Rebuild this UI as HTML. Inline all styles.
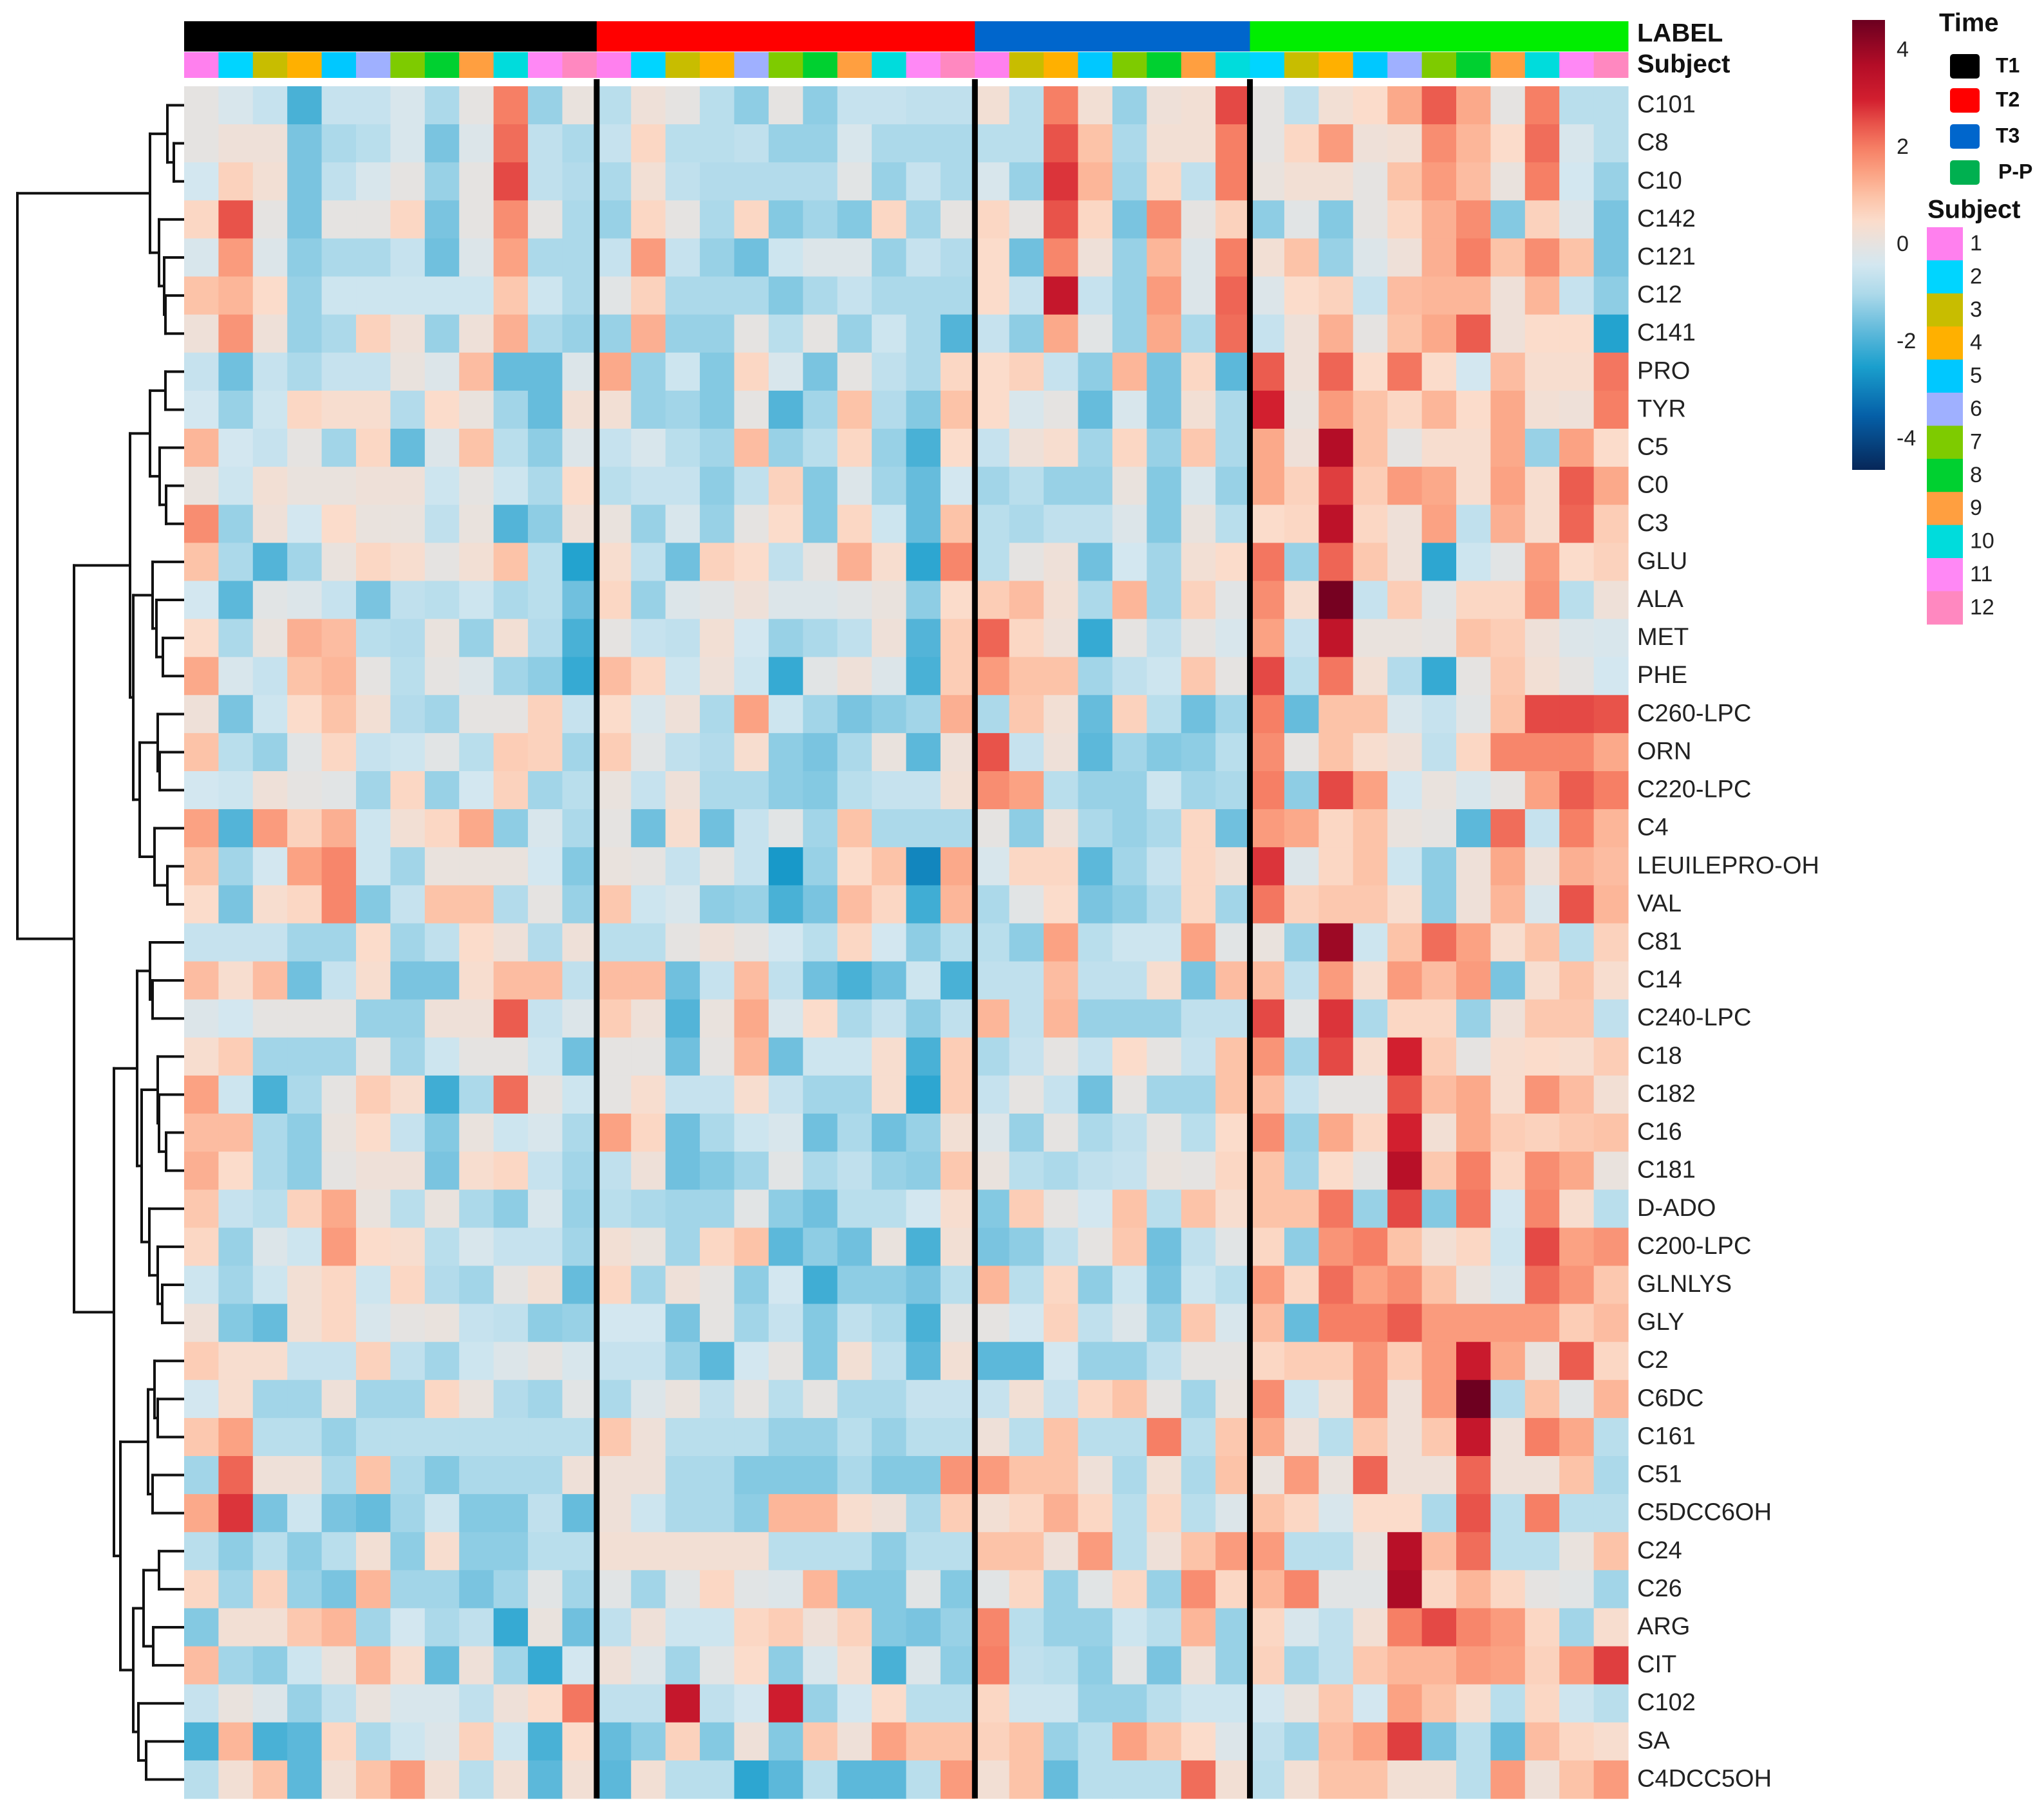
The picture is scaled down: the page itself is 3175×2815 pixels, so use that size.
<!DOCTYPE html>
<html>
<head>
<meta charset="utf-8">
<style>
  html,body{margin:0;padding:0;background:#fff;}
  svg{display:block;}
  text{font-family:"Liberation Sans",Arial,sans-serif;}
</style>
</head>
<body>
<svg id="chart" width="3175" height="2815" viewBox="0 0 3175 2815" xmlns="http://www.w3.org/2000/svg">
  <g id="dendro"></g>
  <g id="annot"></g>
  <g id="cells"></g>
  <g id="seps"></g>
  <g id="rowlabels"></g>
  <text x="2543" y="54" font-size="40" font-weight="bold" dominant-baseline="middle" fill="#111">LABEL</text>
  <text x="2543" y="102" font-size="40" font-weight="bold" dominant-baseline="middle" fill="#111">Subject</text>
  <g id="legend"></g>
</svg>
<script>
const rowLabels = ["C101","C8","C10","C142","C121","C12","C141","PRO","TYR","C5","C0","C3","GLU","ALA","MET","PHE","C260-LPC","ORN","C220-LPC","C4","LEUILEPRO-OH","VAL","C81","C14","C240-LPC","C18","C182","C16","C181","D-ADO","C200-LPC","GLNLYS","GLY","C2","C6DC","C161","C51","C5DCC6OH","C24","C26","ARG","CIT","C102","SA","C4DCC5OH"];
const timeGroups = ["T1","T2","T3","P-P"];
const groupSizes = [12,11,8,11];
const colSubjects = [1,2,3,4,5,6,7,8,9,10,11,12, 1,2,3,4,6,7,8,9,10,11,12, 1,3,4,5,7,8,9,10, 2,3,4,5,6,7,8,9,10,11,12];
const colorTicks = [4,2,0,-2,-4];
const values = [
[0,-0.3,-0.6,-2,-0.6,-0.6,-0.3,-1,0,2,-1.2,0.1,-0.8,0.2,0,-0.8,-1.3,0,-1.3,-0.6,-0.6,-0.7,-0.7,0.3,-0.8,2,0.3,-1.2,0.2,0.3,2.6,0,-0.7,0.3,0.5,1.4,2.4,1.4,0,2,-0.8,-0.8],
[0,0.2,0.2,-1.5,-1,-0.8,-0.3,-1.5,-0.2,2.2,-0.7,-1,-0.6,0.6,-0.8,-0.8,-0.7,-1.2,-1.2,-0.3,-1,-1,-1,-0.8,-0.8,2.5,1,-1,0.3,0.3,2,0,0.6,1.6,0.2,0.3,1.8,1.2,0.5,2.2,-0.3,-0.8],
[-0.4,0.7,0.3,-1.5,-0.7,-0.3,0,-1.2,0,2.6,-0.7,-0.9,-1,0.3,-0.7,-0.9,-0.9,-0.9,-0.9,-0.1,-1.2,-0.6,-1,-0.3,-1.2,2.8,1.2,-1.1,0.6,-0.7,2,0.1,0.3,0.3,0,1,1.6,1.1,0.1,2,-0.4,-1.2],
[0.6,2.5,0,-1.5,0,0,0.6,-1.5,0,1.8,0,-1,-1.2,0.6,0,-1,0.6,-1.4,-1.1,-1.4,0.6,-1.1,0,0.6,0,2.5,0.6,-1.5,1.8,0,0.7,-1.3,-0.1,-1.4,0,0.6,1.3,1.8,-1.4,0.7,-0.2,-1.5],
[-0.3,1.6,-0.2,-1.3,-1,-1,-0.6,-1.6,-0.2,1.5,-1,-1,-0.6,1.6,-0.6,-1.2,-1.6,-0.5,-0.2,-0.2,-1.2,-0.6,-0.9,0.5,-1.6,1.9,0.2,-1.2,1.2,-0.2,2,0.3,1,-1.2,-0.2,0.2,1.3,2,1,1.8,1,-1.5],
[1,1.2,0.5,-1.2,-0.5,-0.5,-0.5,-0.5,-0.5,0.9,-0.5,-1,-0.1,0.7,-1,-1,-1,-1.4,-1,-0.6,-1,-1,-1,0.5,-0.6,3.3,-0.6,-1.2,1.6,-0.2,2.3,-0.2,0.5,0.7,-0.6,1.1,1.2,1.2,0.2,1.2,-0.6,-1.3],
[0.2,1.7,0.2,-1.2,-1,0.7,0.2,-1.2,0.2,1.3,-1,-1.2,-1.2,1.3,-1.2,-1.2,0,-0.8,0,-1.2,-0.5,-1,-1.9,-0.6,-1.3,1.4,-0.1,-1.2,1.4,-1,2.2,-0.6,0.2,1.3,0,1,1.4,2.4,0.2,0.5,0.5,-2.4],
[-0.6,-1.6,-0.6,-1,-0.6,-0.6,0.1,-0.2,1.1,-1.7,-1.7,-0.2,1.4,-1.2,-0.5,-1.4,0.6,-0.3,-1.5,0,-0.7,-1,0.6,0.5,0.7,-0.6,-1.3,1.2,-1.5,0.6,-1.8,2.4,0.2,2.3,0.5,2.1,0.5,-0.4,1.1,0.4,0.4,2.1],
[-0.4,-1.2,-0.5,0.6,0.4,0.4,-0.9,0.5,0.1,-1.1,-1.7,0.3,0.3,-1.2,-1.1,-1.4,0,-1.9,-1.1,1,-0.9,-1.4,1,0.5,-0.3,0,-1.7,-0.3,-1.5,0.3,-1,3,0.1,1.6,1,0.6,1.2,0.5,1.4,0.3,0.2,2],
[1.2,-0.4,-0.6,0,-1.1,0.6,-1.7,-0.2,1,-0.8,-1.3,-0.2,-0.6,-0.3,-0.8,-1.1,1.1,-1.2,-0.8,0.6,-1.2,-2,0.5,-0.6,0.2,0.4,-1.1,0.6,-1.2,0.9,-1,1.4,0.2,3.7,1,0,0.4,0.4,1.4,-1.2,1.5,0.5],
[0.1,-0.5,0.3,0.1,0.1,0.2,0.2,-0.5,0,-0.5,-1,0.5,-0.8,-0.6,-0.6,-1.3,-0.7,0.7,-1.4,-0.2,-1.1,-1.7,-0.4,-1.1,-0.8,-1.2,-1.2,0.1,-1.4,-0.3,-1.2,1.4,0.7,2.7,0.8,1.6,1.4,0.4,1.5,0.4,2.4,1.4],
[1.8,-1.2,0.2,-0.4,0.5,0.1,0.1,-0.7,0.1,-1.9,-1.3,0.2,0.1,-1.2,-0.3,-1.2,0,0.5,-1.4,0.6,-0.5,-1.7,1,-0.8,-1,-0.7,-0.7,-0.2,-1.4,0.1,-0.8,0.5,0.6,3.5,0.6,0.2,1.5,-0.7,1.3,0.4,2.3,0.8],
[1,-1,-1.9,-1.1,0.1,0.6,0.4,0,0.3,1,-0.8,-2.4,0.4,-0.7,-1.6,0.7,0.5,-0.7,0,1.3,0.4,-2.3,1.9,-0.8,0,0.2,-1.6,-0.4,-1.1,0.3,0.5,2.1,-1.2,2.3,0.9,0.2,-2.3,-0.5,-0.1,1.6,0.5,0.7],
[-0.4,-1.8,-0.1,-0.2,-0.6,-1.5,-0.7,-0.8,-0.5,-1,-0.8,-1.6,0.6,-1.2,-0.2,-0.1,0.2,-0.2,-0.2,-0.1,0.1,-1.3,0.5,0.8,1.1,0.3,-1,1.2,-1.1,0.7,-0.1,1.8,0.4,4.5,-0.6,0.8,-0.1,0.6,0.6,1.7,-0.8,0.2],
[0.5,-1,0.1,1.3,1.1,-0.8,-0.9,0.1,-1.2,0.3,-0.9,-2,0,-0.6,-0.7,0.3,-0.4,-1.2,-1,-0.7,0.2,-1.9,0.8,2.3,0.6,0.2,-2.2,0,-0.7,0,-0.3,1.5,-0.6,3.4,0.1,0.1,0,1,0.8,0.2,-0.2,-0.3],
[1.4,-0.3,-0.6,1,1.2,0,-0.8,0,-0.2,-1.1,-1.3,-2.2,1.1,0.6,-0.5,0.2,-0.5,-2.2,-0.1,0.2,-0.2,-2,0.8,1.6,1,1,-1.1,-0.7,-0.5,0.9,0,2.6,-0.8,2.1,0.3,-0.9,-2.2,0,0.9,0.3,0,-0.4],
[0.2,-1.5,-0.5,0.5,1,0.3,-0.9,-1.1,0,0,0.7,-0.6,0.5,-0.3,0.2,-1,1.5,-0.5,-1.1,-1.5,-1.3,-1.1,1.3,-1,0.9,0.3,-1.7,0.7,-0.8,-1.6,-1.1,2,-1.7,1,1,-0.3,-0.6,-0.1,1,2.6,2.6,2.5],
[1,-0.8,-1.2,-0.1,0.6,-0.6,-0.5,-0.1,-0.8,0.8,0.7,-1.1,0.8,-0.1,-0.7,-0.9,0.4,-1.3,-1.5,-1,0.1,-1.8,0.2,2.5,-0.6,0.2,-1.8,-1.1,-1.4,-1.3,-0.8,1.8,0,1,0.4,0.2,-0.7,0.6,1.9,1.9,1.9,1.4],
[-0.4,-0.5,0.2,0,-0.1,-1.1,0.6,-1.2,-0.4,0.7,-1.1,-0.8,0.1,-0.6,0.2,-1,-1,-1.3,-1.4,-0.8,-0.6,-0.6,0.3,1.8,1.5,-0.8,-1.2,-1.2,-0.5,-1.1,-1,2,-1.3,2.6,1.5,-0.4,0.1,-0.3,0,1.5,2.4,2],
[1.5,-1.9,1.6,0.7,1.3,-0.5,0.3,0.6,1.4,-1.3,-0.3,-1,0,-1.6,0.4,-1.6,-0.6,-0.1,-1.1,1,-1,-1,-1,0,-1.3,0.2,-1,-1.2,-1,0.6,-1.6,1.6,1.4,0.6,1,0.1,0,-1.8,2.2,-0.6,2,1.2],
[1,-1.1,-0.4,1.5,1.9,-0.5,-1.1,0.1,0.1,0.1,-0.4,-1.4,0.1,0,-0.6,0,-0.6,-2.6,-1.2,0.5,1,-2.9,1.4,-0.3,0.6,0.6,-1.8,-1.1,-0.6,0.6,0.3,2.8,-0.2,0.6,1,-0.5,-1.3,0.2,1.4,0.2,1.3,1.1],
[0.5,-1.5,0.4,0.6,1.9,-1.4,-0.6,1,1,-0.9,0,-1.2,0.9,-0.5,-0.3,-1.3,-1.2,-2,-1.5,1.1,0.6,-2.1,1.2,-1,-0.1,0.5,-1.5,-1.3,-0.9,0.6,-1.1,2.1,0.7,0.9,0.9,0.4,-1.3,0.2,1.2,-0.3,2.5,1.2],
[-0.6,-0.6,-0.6,-1.1,-1.1,0.5,-1.1,-0.7,0.5,0.2,-0.9,0.2,-0.8,-0.8,0,0.2,0,-0.4,-0.8,0.6,-0.4,-1.3,-0.8,-0.8,-1.3,1.5,-0.8,-0.5,-0.5,1.5,-0.1,0.1,-1.2,4,-0.5,1,2.2,1.5,0.4,1,-0.8,0.7],
[1.1,0.4,1.1,-1.6,-0.6,0.4,-1.5,-1.5,0.4,1.1,1.1,-0.7,1.1,1.1,-1.6,-0.6,1.1,-0.7,-1.6,-2,-1.6,-0.5,-2,-0.7,-0.7,1.1,-0.7,-0.7,0.4,-1.5,1.1,1.1,-0.7,1.6,0.4,1.6,1.1,1.6,-1.5,0.4,1,0.4],
[-0.2,-0.4,0,0,0,-1.2,-1.2,0.2,0.2,2.4,-0.6,-0.2,0.8,0.2,-1.9,0.1,1.4,-0.3,0.5,-1,-0.6,-1.3,-0.7,1.2,-0.7,1.2,-1.2,-1.2,-1.2,-0.7,-0.7,2.6,-0.1,2.8,-1,0.6,0.6,-1.2,0.2,0.9,0.9,-0.7],
[0.4,0.8,-1.1,-1.1,-1.1,0,-1.1,-0.5,0,0,-0.5,-1.6,0,0,-1.6,0,1.2,-1.6,-0.5,-0.5,0.4,-2,0.8,-1,-0.6,0,-0.6,0.5,0,-0.6,1,1.7,-1.1,2.6,0.4,3,0.8,0,0.4,0.5,0.4,0.8],
[1.5,-0.5,-2,-1,0,0.8,0.4,-2.1,-1,2.2,0,-0.5,0,0.4,-0.6,-0.6,0.4,-0.6,-1.1,-1.1,0.4,-2.3,0.8,-0.6,0,-0.6,-1.6,0,-1.1,-1.1,1,1.1,-0.6,0,0,2.5,1.1,1.4,0.4,1.7,1.1,0.3],
[1.1,1.1,-1,-1.3,0.1,0.5,-0.6,-1.4,0.1,-0.5,-0.3,-1,1.5,0.6,-1.6,-1,-0.5,-0.3,-1.6,-1,-1.6,-1.2,0.3,-0.2,-1.2,0,-1,-0.7,0,-0.8,0.5,1.8,-1.2,1.4,0.6,3,0.3,1.4,0.8,0.7,0.9,1],
[1.3,0.5,-1,-1.3,0,0.2,0.2,-1.5,0.4,0.6,-0.6,-1.1,-0.7,0.2,-1.6,-1.4,-1.1,-0.1,-1,-0.7,-1.2,-1.3,0.9,0.1,-0.8,-1,-0.7,-0.6,0.1,0,0.6,1,-1.1,0.5,0,3.6,0.9,2,0.6,1.8,1.4,0.1],
[0.9,-0.6,-0.8,0.7,1.4,0.1,-0.8,0.1,-1,-1.3,-0.3,-1.2,-0.8,-1,-1.1,-1.1,-0.1,-1.3,-1.6,-0.8,-0.8,-0.4,0.4,-1.4,0.8,0,-0.4,1,-0.8,1,0.4,1,1,2.1,-1.2,2.6,-1.4,2.1,-0.4,1.9,0.4,-0.8],
[0.6,-1.2,-0.2,-0.5,1.6,0.5,0.4,-0.8,-0.3,-0.6,-0.6,-1.1,0.3,0.1,-1.1,0.6,1,-1.8,-1.3,-1.6,0.1,-2,0.3,-1.5,-1.3,-0.7,0,0.9,-1.6,-0.7,-0.1,0.6,-1.3,1.7,2,1,0.3,0.6,-0.5,2.6,1.5,1.7],
[-0.5,-1.1,-0.5,0.3,0.6,-0.5,0.6,-0.9,-1.1,0,0.3,-1.7,0.6,-1.1,0.2,0,-1.3,-0.4,-2.1,-1.3,-1.3,-1.5,-0.8,1.2,-0.8,0.6,-1.3,-0.5,-1.5,-0.5,-0.8,1.6,0.6,2.2,1.5,1.8,1,0.1,-0.3,2.2,1.7,0.9],
[0.2,-1.4,-1.7,0.3,0.6,-0.3,0,0.1,-0.6,-0.7,-1.3,-1.2,-0.4,-0.4,-1.5,0,-1.1,-0.6,-1.4,-0.7,-1,-2,0,0,-0.4,0.7,-0.7,-0.2,-1.2,0.9,-0.3,1.1,-1.7,2,2,2.4,1.6,1.6,1.6,1.6,0.8,1.1],
[0.8,0.4,0.4,-0.6,-0.6,0.7,-0.7,-1.1,-0.5,-0.2,0,-0.3,-0.6,-0.6,-1.2,-1.8,-0.4,0,-1.4,0.3,-0.7,-1.8,0.3,-1.8,-1.8,-0.4,-1.2,-1.2,-0.7,0,0,0.6,0.8,0.8,1.7,0.8,1.6,3.2,1.4,0.1,2.4,0.6],
[-0.4,0.4,-1.1,-1.1,0.2,-1.1,-1.1,0.6,0.1,-0.9,-1.1,-0.1,-1,-0.2,0.1,-0.7,0,-0.8,0,-1,-1,-0.6,-0.6,-0.6,0.3,-0.6,0.6,1,0,-1.1,0.1,1.8,-0.5,0.3,1.7,0.2,1.6,4.6,-0.9,1,-0.1,1.2],
[0.9,1.5,-0.8,-0.8,-1.2,-0.8,-0.8,-0.8,-0.8,-0.8,-0.8,-0.8,0.9,0.2,-0.8,-0.8,-0.8,-1.2,-1.2,-0.8,-1.2,-0.8,-0.8,0.2,-0.8,1,-0.8,-0.8,2,-0.8,0.9,1.4,0.2,-0.8,0.9,0.2,0.9,3.3,0.2,2,1.4,-0.8],
[-1.1,2.3,0.2,0.2,-1,1,-1,-1.4,-1,-1,-1,0.2,0.2,0.2,-1,-1,-1.4,-1.4,-1.4,-1,-1.4,-1.4,1.7,1.6,1,1,0.2,-1,0.3,-1,1,0.1,1.6,0.1,2.3,0.2,0.2,2.3,0.2,0.2,1,-1],
[1.4,2.8,-1.5,-0.5,-1.5,-1.7,-1.1,-0.5,-1.4,-1.4,-0.7,-1.7,0.2,-0.5,-1,-1,-1.3,1.2,1.2,0.4,0.2,-1,0.8,0.3,0.6,1.3,0.6,-0.8,0.6,-0.8,-0.2,1,0.6,-0.3,0.5,0.5,-1,2.5,-0.8,2,-0.8,-0.8],
[-0.8,-1.3,-0.8,-1.3,-0.8,0.3,-1.3,0.4,-1.3,-1.3,-0.8,-0.8,0.3,0.3,0.3,0.3,0.3,-0.8,-0.8,-0.8,-1.3,-0.8,-0.8,1,1,0.2,1.6,-0.8,0.2,1,1.6,1.6,-0.8,-0.8,0.1,3.6,1.1,2.2,-0.8,-0.8,0.1,1],
[0.6,-1.1,0.7,-1.2,-1.5,1.2,-1.1,-1.1,-1.5,-1.1,-0.1,-1.1,-0.1,-1.1,-0.1,0.6,-0.1,-0.2,1.2,-1.4,-1.4,-0.1,-1.4,-0.1,0.6,-1.2,-0.1,0.6,-1.2,1.8,0.6,1.2,1.9,-0.1,-0.1,3.8,0.6,1.2,0.6,0,-0.1,-1.1],
[-1.4,0.3,0.3,0.9,1.2,-1.1,-0.4,-1,-0.7,-2.2,0.1,-1.6,-0.7,0.2,-0.5,-0.5,0.6,0.8,0.2,0.7,-1.4,-1.5,-1.2,1.9,-0.8,-1.2,-1.2,-0.5,-0.8,1.2,-1.2,0.6,-0.3,-0.7,0.3,2,2.6,1.9,1.6,0.6,-1.1,0.4],
[1.1,-1.1,-1.3,-0.5,0.1,1.2,0.4,-1.7,0.2,-1.1,-2.2,-0.4,0.2,-0.2,-1.1,-0.1,0.5,-1.3,-0.3,0.4,-2,-0.2,-1.3,2,-0.7,-0.8,-1.3,-0.1,-1.5,0.2,-1.2,0.7,-1.1,-0.7,0.9,1.2,1.2,1.6,1.5,0.7,1.6,2.7],
[-0.6,0.1,-0.2,-1.2,-0.7,0.1,-0.3,-0.3,-0.7,0.2,0.5,2.1,-0.7,-0.7,3.3,-0.7,-0.4,3.1,-1.2,-0.4,0.5,-0.8,-0.8,0.6,-0.5,-0.5,-1.2,-1.2,-0.8,-0.5,-0.5,-0.4,0.1,0.9,-0.4,1.5,1,0.4,-0.8,0.6,-0.5,-0.8],
[-2,1.2,-2,-1.8,0.6,-1,-0.5,-0.2,0.7,-0.5,-2,0.5,-1.7,-1.3,0.7,-1.4,0.2,-1.4,0.9,0.2,1.5,1,1,0.7,1,-1.2,-0.8,1.5,1,0.5,-0.2,-0.7,-1.1,1.1,1.5,2.7,-1.5,-0.8,-1.7,1.1,0.6,0.4],
[-0.8,0.3,1,-1.8,0.3,1,1.6,0.3,-0.8,0.3,-1.8,0.3,-1.8,0.3,-0.8,-0.8,-2.3,-1.8,-0.8,-1.8,-1.8,-0.8,1.6,0.3,1,-1.7,-0.8,-0.8,-0.8,2.2,0.3,-0.8,0.3,1,1,0.3,0.3,-0.8,1.6,0.2,1,1.6]
];
// dendrogram topology: [left, right, mergeX]; leaves are row indices
const dendroTree = [
  [[[0,[1,2,270],260],[3,[4,[5,6,257],255],247],233]],
  [
    [[[7,8,257],[9,[10,11,258],248],233],[[12,[13,[14,15,253],243],237],[[16,[17,18,248],245],[19,[20,21,260],240],217],207],202],
    [[[22,[23,24,237],233],[[25,[26,[27,28,258],247],245],[29,[30,[31,32,252],245],232],220],213],
     [[[33,[34,35,245],240],[36,37,237],230],[[[38,39,247],[40,41,238],223],[42,[43,44,227],215],207],187],177],
    115],
  27];

const NS = "http://www.w3.org/2000/svg";
const X0 = 286, X1 = 2529, Y0 = 134, Y1 = 2794;
const nCols = colSubjects.length, nRows = rowLabels.length;
const cw = (X1 - X0) / nCols, rh = (Y1 - Y0) / nRows;
const xPos = c => X0 + c * cw;
const yPos = r => Y0 + r * rh;

const stopsV = [-4.6,-3.5,-2.5,-1.8,-1,-0.4,0,0.5,1,1.5,2,2.5,3,3.7,4.6];
const stopsC = ["#07285a","#0560a8","#1a9fcd","#5cb8da","#acd9ea","#d3e7f0","#e5e3e1","#fbdccb","#fcc3a8","#fba283","#f67f65","#e8534a","#d21f2f","#b40d27","#6e0020"];
function hex(h){return [1,3,5].map(i=>parseInt(h.substr(i,2),16));}
function colorFor(v){
  v = Math.max(stopsV[0], Math.min(stopsV[stopsV.length-1], v));
  for (let i=0;i<stopsV.length-1;i++){
    if (v<=stopsV[i+1]){
      const t=(v-stopsV[i])/(stopsV[i+1]-stopsV[i]);
      const a=hex(stopsC[i]), b=hex(stopsC[i+1]);
      return "rgb("+a.map((x,k)=>Math.round(x+(b[k]-x)*t)).join(",")+")";
    }
  }
  return stopsC[stopsC.length-1];
}
function mk(tag, attrs, parent){
  const e=document.createElementNS(NS,tag);
  for (const k in attrs) e.setAttribute(k, attrs[k]);
  parent.appendChild(e); return e;
}
const subjColors = ["#ff80ee","#00d5ff","#c8bd00","#ffb000","#00c8ff","#9fb0ff","#7ecb00","#00d030","#ff9f40","#00dcdc","#ff88f5","#ff88c0"];
const timeColors = ["#000000","#ff0000","#0066cc","#00ee00"];
const timeLegendColors = ["#000000","#ff0000","#0066cc","#00b050"];

const gCells = document.getElementById("cells");
values.forEach((row, r) => {
  row.forEach((v, c) => {
    const rect = mk("rect",{x:xPos(c).toFixed(2), y:yPos(r).toFixed(2), width:(cw+0.6).toFixed(2), height:(rh+0.6).toFixed(2), fill:colorFor(v)}, gCells);
    
    
  });
});

const gAnn = document.getElementById("annot");
let start = 0;
groupSizes.forEach((n, g) => {
  const rect = mk("rect",{x:xPos(start), y:33, width:n*cw+0.5, height:47, fill:timeColors[g]}, gAnn);
  
  
  start += n;
});
colSubjects.forEach((s, c) => {
  const rect = mk("rect",{x:xPos(c), y:81, width:cw+0.5, height:40, fill:subjColors[s-1]}, gAnn);
  
  
});

const gSep = document.getElementById("seps");
let acc = 0;
groupSizes.slice(0,3).forEach(n => {
  acc += n;
  const rect = mk("rect",{x:xPos(acc)-4.5, y:123, width:9, height:Y1-123, fill:"#000"}, gSep);
  
  
});

const gLab = document.getElementById("rowlabels");
rowLabels.forEach((lab, r) => {
  const t = mk("text",{x:2543, y:(yPos(r)+rh/2+1).toFixed(1), "font-size":38, "dominant-baseline":"middle", fill:"#222"}, gLab);
  t.textContent = lab;
  
  
});

const gD = document.getElementById("dendro");
function line(x1,y1,x2,y2){
  const l = mk("line",{x1:x1,y1:y1,x2:x2,y2:y2,stroke:"#111","stroke-width":4,"stroke-linecap":"square"}, gD);
  
  
}
function draw(node){
  if (typeof node === "number") return {x:X0, y:yPos(node)+rh/2};
  if (node.length === 1) return draw(node[0]);
  const a = draw(node[0]), b = draw(node[1]), x = node[2];
  line(x, a.y, a.x, a.y);
  line(x, b.y, b.x, b.y);
  line(x, a.y, x, b.y);
  return {x:x, y:(a.y+b.y)/2};
}
draw(dendroTree);

const gL = document.getElementById("legend");
const defs = mk("defs",{},gL);
const grad = mk("linearGradient",{id:"cbar",x1:0,y1:1,x2:0,y2:0},defs);
const vmin = -4.62, vmax = 4.64;
stopsV.forEach((v,i)=>{ mk("stop",{offset:((v-vmin)/(vmax-vmin)).toFixed(4),"stop-color":stopsC[i]},grad); });
const cb = mk("rect",{x:2877,y:31,width:51,height:699,fill:"url(#cbar)"},gL);


const cbY = v => 381 - v * 75.5;
colorTicks.forEach(v => {
  const t = mk("text",{x:2946,y:cbY(v),"font-size":34,"dominant-baseline":"middle",fill:"#222"},gL);
  t.textContent = String(v);
  
  
});
const tt = mk("text",{x:3012,y:38,"font-size":40,"font-weight":"bold","dominant-baseline":"middle",fill:"#111"},gL);
tt.textContent = "Time";


const timeY = [103,156,212,268];
timeGroups.forEach((g,i) => {
  const r = mk("rect",{x:3029,y:timeY[i]-19,width:46,height:38,rx:5,fill:timeLegendColors[i]},gL);
  
  
  const t = mk("text",{x:g==="P-P"?3104:3100,y:timeY[i]+1,"font-size":32,"font-weight":"bold","dominant-baseline":"middle",fill:"#111"},gL);
  t.textContent = g;
  
  
});
const st = mk("text",{x:2994,y:328,"font-size":40,"font-weight":"bold","dominant-baseline":"middle",fill:"#111"},gL);
st.textContent = "Subject";


subjColors.forEach((col,i) => {
  const y = 353 + i*51.4;
  const r = mk("rect",{x:2993,y:y,width:56,height:51.9,fill:col},gL);
  
  
  const t = mk("text",{x:3060,y:y+27,"font-size":34,"dominant-baseline":"middle",fill:"#222"},gL);
  t.textContent = String(i+1);
  
  
});
</script>
</body>
</html>
